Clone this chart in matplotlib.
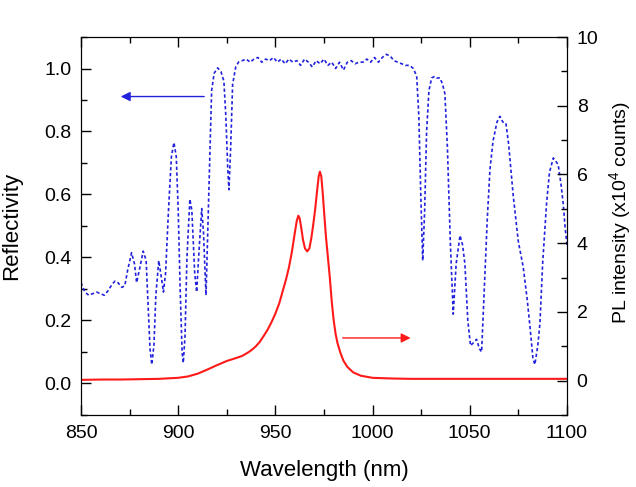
import matplotlib
matplotlib.use("Agg")
import matplotlib.pyplot as plt
from matplotlib.ticker import MultipleLocator, FuncFormatter

plt.rcParams["font.family"] = ["Liberation Sans", "DejaVu Sans"]
plt.rcParams["mathtext.default"] = "regular"

# ── reflectivity (blue dashed, left axis) ─────────────────────────────────────
refl_nm = [
    850, 852, 854, 856, 858, 860, 862, 864, 866, 867.5, 869, 871, 872.5, 874,
    876, 877.5, 878.6, 880, 882, 883.5, 884.5, 885.5, 886.4, 887.5, 888.5, 890,
    891.5, 892.4, 893.5, 895, 896.5, 897.8, 899, 900, 901, 902, 902.6, 903.5,
    904.5, 906, 907, 908.5, 909.5, 910.5, 912.1, 913, 914.3, 915.5, 917.2,
    918.5, 920.3, 922, 923.5, 924.5, 925.5, 926.1, 927, 928, 929.6, 931, 933,
    935, 937, 939, 941, 943, 945, 947, 949, 951, 953, 955, 957, 959, 961, 963,
    965, 967, 969, 971, 973, 975, 977, 979, 981, 983, 985, 987, 989, 991, 993,
    995, 997, 999, 1001, 1003, 1005, 1007, 1009, 1011, 1013, 1015, 1017, 1019,
    1021, 1022.7, 1023.8, 1024.8, 1025.8, 1026.8, 1027.8, 1029, 1030.4, 1032,
    1033, 1034.7, 1036, 1037.2, 1038.5, 1040, 1041.5, 1043, 1045, 1046.3,
    1047.5, 1049, 1050.4, 1052, 1053.5, 1055, 1056.1, 1057.5, 1059, 1060.4,
    1062, 1064, 1065.5, 1067, 1068.6, 1070, 1072.4, 1075, 1077.5, 1079.5, 1081,
    1082.5, 1083.5, 1085, 1086.1, 1087.5, 1089.5, 1091, 1093, 1095.5, 1097,
    1098.1, 1099, 1100,
]
refl_val = [
    0.32, 0.29, 0.28, 0.285, 0.29, 0.285, 0.28, 0.295, 0.315, 0.325, 0.32, 0.305,
    0.31, 0.36, 0.415, 0.38, 0.32, 0.36, 0.42, 0.39, 0.25, 0.11, 0.06, 0.12,
    0.28, 0.39, 0.33, 0.29, 0.35, 0.55, 0.72, 0.765, 0.72, 0.55, 0.30, 0.10,
    0.065, 0.15, 0.40, 0.585, 0.55, 0.35, 0.29, 0.40, 0.555, 0.48, 0.28, 0.55,
    0.93, 0.985, 1.002, 0.99, 0.96, 0.85, 0.68, 0.615, 0.75, 0.95, 1.005, 1.02,
    1.025, 1.03, 1.02, 1.03, 1.035, 1.02, 1.03, 1.025, 1.035, 1.02, 1.03, 1.015,
    1.03, 1.02, 1.025, 1.01, 1.03, 1.02, 1.005, 1.025, 1.015, 1.03, 1.01, 1.02,
    1.0, 1.02, 0.995, 1.02, 1.025, 1.015, 1.02, 1.02, 1.03, 1.02, 1.035, 1.02,
    1.035, 1.045, 1.04, 1.025, 1.02, 1.015, 1.01, 1.01, 1.0, 0.975, 0.85, 0.60,
    0.39, 0.55, 0.80, 0.93, 0.97, 0.975, 0.97, 0.97, 0.95, 0.92, 0.75, 0.45,
    0.22, 0.38, 0.47, 0.44, 0.38, 0.20, 0.12, 0.13, 0.14, 0.11, 0.10, 0.30,
    0.52, 0.68, 0.77, 0.83, 0.848, 0.83, 0.827, 0.76, 0.594, 0.45, 0.37, 0.27,
    0.18, 0.08, 0.06, 0.12, 0.19, 0.38, 0.57, 0.67, 0.716, 0.695, 0.63, 0.57,
    0.50, 0.44,
]

# ── PL spectrum (red solid, right axis, x10^4 counts) ─────────────────────────
pl_nm = [
    850, 860, 870, 880, 890, 900, 905, 910, 915, 920, 925, 930, 933, 936, 938,
    940, 942, 944, 946, 948, 950, 952, 954, 955.5, 957, 958.5, 960, 961, 961.8,
    962.5, 963.3, 964.2, 965.2, 966.4, 967.5, 968.5, 969.5, 970.5, 971.5,
    972.3, 972.9, 973.6, 974.3, 975.2, 976, 977, 978, 979, 980, 981, 982,
    983.5, 985, 987, 990, 994, 1000, 1010, 1020, 1040, 1060, 1080, 1100,
]
pl_val = [
    0.02, 0.03, 0.03, 0.04, 0.05, 0.08, 0.12, 0.20, 0.32, 0.45, 0.57, 0.66,
    0.72, 0.82, 0.90, 1.0, 1.13, 1.3, 1.48, 1.7, 1.95, 2.25, 2.65, 2.95, 3.3,
    3.75, 4.3, 4.65, 4.8, 4.72, 4.45, 4.1, 3.85, 3.76, 3.85, 4.15, 4.55, 5.0,
    5.55, 5.95, 6.08, 5.95, 5.5, 4.8, 4.2, 3.6, 3.0, 2.3, 1.75, 1.35, 1.08,
    0.8, 0.58, 0.4, 0.24, 0.14, 0.08, 0.06, 0.05, 0.05, 0.05, 0.05, 0.05,
]

BLUE = "#2222dd"
RED = "#ff1a1a"

fig = plt.figure(figsize=(6.36, 4.87), dpi=100)
ax = fig.add_axes([0.1274, 0.148, 0.764, 0.776])
ax2 = ax.twinx()

ax.plot(refl_nm, refl_val, color=BLUE, lw=1.2, ls=(0, (2.0, 1.5)))
ax2.plot(pl_nm, pl_val, color=RED, lw=1.5)

ax.set_xlim(850, 1100)
ax.set_ylim(-0.1, 1.1)
ax2.set_ylim(-1, 10)

ax.xaxis.set_major_locator(MultipleLocator(50))
ax.xaxis.set_minor_locator(MultipleLocator(25))
ax.set_yticks([0.0, 0.2, 0.4, 0.6, 0.8, 1.0])
ax.yaxis.set_minor_locator(MultipleLocator(0.1))
ax.yaxis.set_major_formatter(FuncFormatter(lambda v, p: f"{v:.1f}"))
ax2.set_yticks([0, 2, 4, 6, 8, 10])
ax2.yaxis.set_minor_locator(MultipleLocator(1))

ax.tick_params(which="both", direction="in", top=True, right=False,
               labelsize=14, pad=7)
ax.tick_params(which="major", length=7, width=1)
ax.tick_params(which="minor", length=4, width=1)
ax2.tick_params(which="both", direction="in", labelsize=14, pad=7)
ax2.tick_params(which="major", length=7, width=1)
ax2.tick_params(which="minor", length=4, width=1)

ax.set_xlabel("Wavelength (nm)", fontsize=16)
ax.set_ylabel("Reflectivity", fontsize=16)
ax2.set_ylabel("PL intensity (x10$^4$ counts)", fontsize=14)
ax.xaxis.set_label_coords(0.5, -0.12)
ax.yaxis.set_label_coords(-0.121, 0.5)
ax2.yaxis.set_label_coords(1.082, 0.534)

# direction arrows
ax.annotate("", xy=(869, 0.911), xytext=(914.8, 0.911),
            arrowprops=dict(arrowstyle="-|>", color=BLUE, lw=1.0,
                            mutation_scale=14))
ax2.annotate("", xy=(1021, 1.24), xytext=(983.2, 1.24),
             arrowprops=dict(arrowstyle="-|>", color=RED, lw=1.0,
                             mutation_scale=14))

fig.savefig("out.png", dpi=100, facecolor="white")
